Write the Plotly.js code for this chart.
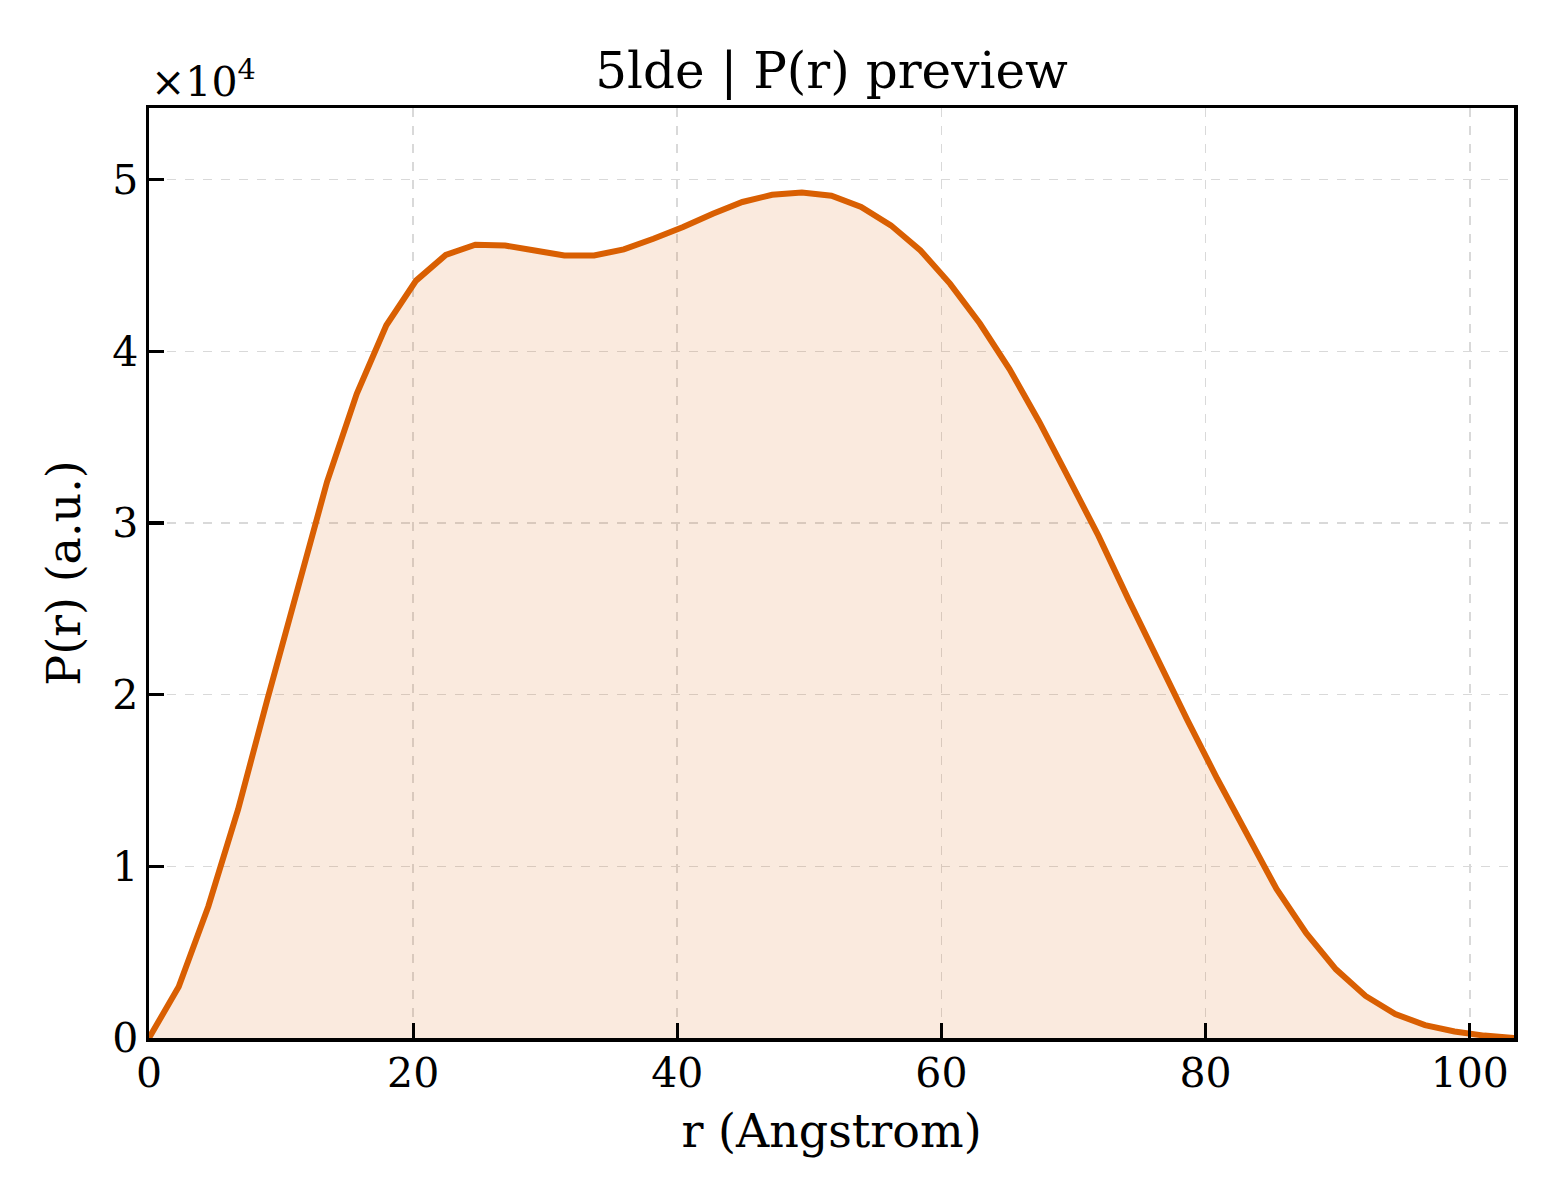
<!DOCTYPE html>
<html>
<head>
<meta charset="utf-8">
<script src="https://cdn.plot.ly/plotly-3.0.1.min.js"></script>
<style>
  html, body { margin: 0; padding: 0; background: #fff; }
  #chart { width: 1560px; height: 1200px; }
</style>
</head>
<body>
<div id="chart"></div>
<script>
const rValues = [
  0, 2.25, 4.49, 6.74, 8.99, 11.23, 13.48, 15.73, 17.97, 20.22,
  22.47, 24.71, 26.96, 29.21, 31.45, 33.70, 35.95, 38.19, 40.44, 42.69,
  44.93, 47.18, 49.43, 51.67, 53.92, 56.17, 58.41, 60.66, 62.91, 65.15,
  67.40, 69.65, 71.89, 74.14, 76.39, 78.63, 80.88, 83.13, 85.37, 87.62,
  89.87, 92.11, 94.36, 96.61, 98.85, 101.10, 103.35
];

const prValues = [
  0, 2980, 7660, 13300, 19800, 26200, 32400, 37530, 41520, 44120,
  45620, 46210, 46160, 45870, 45580, 45580, 45940, 46560, 47240, 48020,
  48700, 49120, 49250, 49060, 48410, 47340, 45880, 43930, 41620, 38970,
  35900, 32580, 29250, 25580, 22000, 18500, 15100, 11850, 8680, 6100,
  4000, 2450, 1400, 750, 380, 140, 0
];

const yTickVals = [0, 10000, 20000, 30000, 40000, 50000];
const yTickText = ["0", "1", "2", "3", "4", "5"];
const xTickVals = [0, 20, 40, 60, 80, 100];

const lineColor = "#d95f02";
const serif = "DejaVu Serif";

function axisStyle() {
  return {
    showline: true,
    linecolor: "#000",
    linewidth: 3.5,
    mirror: true,
    ticks: "inside",
    ticklen: 15,
    tickwidth: 3.3,
    tickcolor: "#000",
    showgrid: true,
    gridcolor: "#d9d9d9",
    gridwidth: 1.6,
    griddash: "dash",
    zeroline: false,
    tickfont: { family: serif, size: 41, color: "#000" },
  };
}

function renderPr() {
  const xaxis = Object.assign(axisStyle(), {
    range: [0, rValues[rValues.length - 1]],
    tickvals: xTickVals,
    ticklabelstandoff: -4,
    title: { text: "r (Angstrom)", font: { family: serif, size: 46, color: "#000" }, standoff: 20 },
  });

  const yaxis = Object.assign(axisStyle(), {
    range: [0, 54175],
    tickvals: yTickVals,
    ticktext: yTickText,
    ticklabelstandoff: -1,
    title: { text: "P(r) (a.u.)", font: { family: serif, size: 46, color: "#000" }, standoff: 18 },
  });

  Plotly.newPlot("chart", [{
    x: rValues,
    y: prValues,
    type: "scatter",
    mode: "lines",
    fill: "tozeroy",
    fillcolor: "rgba(217,95,2,0.13)",
    line: { color: lineColor, width: 6 },
    hoverinfo: "skip",
  }], {
    width: 1560,
    height: 1200,
    margin: { l: 149, r: 46, t: 108, b: 162 },
    paper_bgcolor: "#fff",
    plot_bgcolor: "#fff",
    showlegend: false,
    title: {
      text: "5lde | P(r) preview",
      font: { family: serif, size: 50, color: "#000" },
      xref: "paper",
      x: 0.5,
      yref: "paper",
      y: 1,
      yanchor: "bottom",
      pad: { b: 20 },
    },
    xaxis,
    yaxis,
    annotations: [{
      text: "×10<sup>4</sup>",
      xref: "paper",
      yref: "paper",
      x: 0,
      y: 1,
      xanchor: "left",
      yanchor: "bottom",
      yshift: 0,
      showarrow: false,
      font: { family: serif, size: 41, color: "#000" },
    }],
  }, { staticPlot: true });
}

renderPr();
</script>
</body>
</html>
